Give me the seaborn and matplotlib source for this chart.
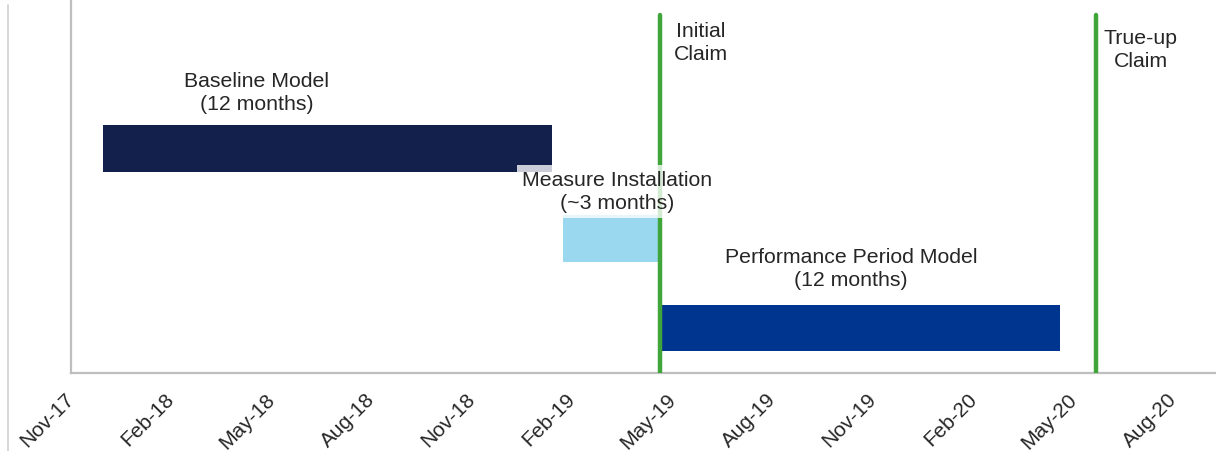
import pandas as pd
import matplotlib.pyplot as plt
import seaborn as sns
from matplotlib.lines import Line2D

# months counted from Nov-17 (0)
tasks = ['Baseline Model', 'Measure Installation', 'Performance Period Model']
starts = [0.95, 14.72, 17.68]
ends = [14.40, 17.56, 29.58]
bar_colors = ['#12204B', '#9AD8EF', '#00358F']
bar_labels = ['Baseline Model\n(12 months)', 'Measure Installation\n(~3 months)',
              'Performance Period Model\n(12 months)']

claims = ['Initial\nClaim', 'True-up\nClaim']
claim_months = [17.62, 30.66]

tick_months = list(range(0, 34, 3))
tick_labels = ['Nov-17', 'Feb-18', 'May-18', 'Aug-18', 'Nov-18', 'Feb-19',
               'May-19', 'Aug-19', 'Nov-19', 'Feb-20', 'May-20', 'Aug-20']

df = pd.DataFrame({'task': tasks, 'start': starts, 'end': ends})
df['dur'] = df['end'] - df['start']

sns.set_theme(style='white')
plt.rcParams['font.family'] = ['Liberation Sans', 'DejaVu Sans']

fig = plt.figure(figsize=(12.16, 4.51), dpi=100)
ax = fig.add_axes([71 / 1216, 1 - 373 / 451, 1 - 71 / 1216, 373 / 451])

sns.barplot(data=df, x='dur', y='task', orient='y', order=tasks, left=df['start'],
            width=0.52, errorbar=None, color=bar_colors[0], linewidth=0, ax=ax)
for patch, c in zip(ax.patches, bar_colors):
    patch.set_facecolor(c)
    patch.set_edgecolor(c)

ax.set_xlim(0, 34.25)
ax.set_ylim(2.5, -1.655)

# claim lines
for m, txt in zip(claim_months, claims):
    ax.axvline(m, ymin=0, ymax=0.96, color='#40A63A', lw=3.2, zorder=3)

txt_kw = dict(ha='center', va='center', fontsize=15.3, color='#262626', linespacing=1.25)
ax.text(18.85, -1.18, claims[0], **txt_kw)
ax.text(32.0, -1.10, claims[1], **txt_kw)

# bar labels
ax.text(5.56, -0.62, bar_labels[0], **txt_kw)
ax.text(16.33, 0.48, bar_labels[1], zorder=5,
        bbox=dict(boxstyle='square,pad=0.25', facecolor='white', edgecolor='none', alpha=0.78),
        **txt_kw)
ax.text(23.33, 1.34, bar_labels[2], **txt_kw)

ax.set_xticks(tick_months)
ax.set_xticklabels(tick_labels, rotation=45, ha='right', va='center',
                   rotation_mode='anchor', fontsize=15, color='#262626')
ax.tick_params(axis='x', length=0, pad=17)
ax.set_yticks([])
ax.set_xlabel('')
ax.set_ylabel('')

for s in ['top', 'right']:
    ax.spines[s].set_visible(False)
for s in ['left', 'bottom']:
    ax.spines[s].set_color('#BFBFBF')
    ax.spines[s].set_linewidth(1.6)

# thin frame line at the far left of the picture
fig.add_artist(Line2D([8 / 1216, 8 / 1216], [0, 1 - 5 / 451], color='#D0D0D0', lw=1.2))

fig.savefig('out.png', dpi=100)
